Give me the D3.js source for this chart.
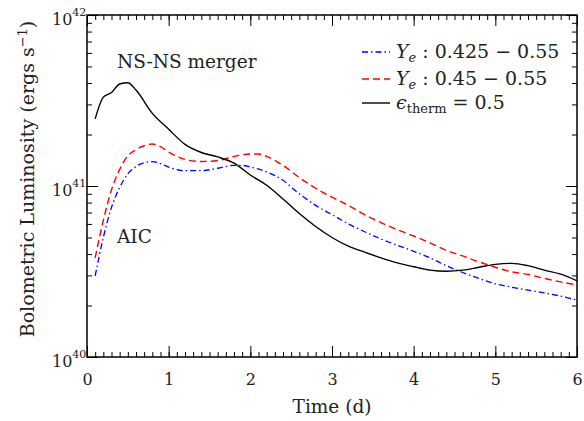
<!DOCTYPE html>
<html>
<head>
<meta charset="utf-8">
<script src="https://cdn.jsdelivr.net/npm/d3@7"></script>
<style>
  body { margin: 0; background: #fff; }
  svg text { font-family: "DejaVu Serif", serif; fill: #222; }
</style>
</head>
<body>
<svg id="chart" width="584" height="421"></svg>
<script>
// light curves (time in days, luminosity in erg/s)
var blueTime = [0.1, 0.2, 0.3, 0.4, 0.5, 0.6, 0.7, 0.8, 0.9, 1.0, 1.2, 1.4, 1.6, 1.8, 1.9, 2.0, 2.2, 2.4, 2.6, 2.8, 3.0, 3.2, 3.4, 3.6, 3.8, 4.0, 4.2, 4.4, 4.6, 4.8, 5.0, 5.2, 5.4, 5.6, 5.8, 6.0];
var blueLum = [2.98e40, 5.0e40, 7.5e40, 9.8e40, 1.18e41, 1.3e41, 1.37e41, 1.39e41, 1.35e41, 1.29e41, 1.23e41, 1.23e41, 1.27e41, 1.32e41, 1.32e41, 1.29e41, 1.21e41, 1.08e41, 9.0e40, 7.7e40, 6.8e40, 6.0e40, 5.4e40, 4.9e40, 4.5e40, 4.15e40, 3.8e40, 3.42e40, 3.12e40, 2.88e40, 2.68e40, 2.56e40, 2.46e40, 2.37e40, 2.27e40, 2.15e40];

var redTime = [0.1, 0.2, 0.3, 0.4, 0.5, 0.6, 0.7, 0.8, 0.9, 1.0, 1.2, 1.4, 1.6, 1.8, 2.0, 2.1, 2.2, 2.4, 2.6, 2.8, 3.0, 3.2, 3.4, 3.6, 3.8, 4.0, 4.2, 4.4, 4.6, 4.8, 5.0, 5.2, 5.4, 5.6, 5.8, 6.0];
var redLum = [3.8e40, 6.3e40, 9.5e40, 1.25e41, 1.5e41, 1.63e41, 1.72e41, 1.76e41, 1.7e41, 1.58e41, 1.43e41, 1.39e41, 1.41e41, 1.49e41, 1.54e41, 1.54e41, 1.49e41, 1.32e41, 1.12e41, 9.7e40, 8.6e40, 7.7e40, 6.8e40, 6.1e40, 5.55e40, 5.1e40, 4.65e40, 4.2e40, 3.9e40, 3.6e40, 3.35e40, 3.15e40, 3.04e40, 2.88e40, 2.75e40, 2.64e40];

var blackTime = [0.1, 0.2, 0.3, 0.4, 0.5, 0.6, 0.8, 1.0, 1.2, 1.4, 1.6, 1.8, 2.0, 2.2, 2.4, 2.6, 2.8, 3.0, 3.2, 3.4, 3.6, 3.8, 4.0, 4.2, 4.4, 4.6, 4.8, 5.0, 5.2, 5.4, 5.6, 5.8, 6.0];
var blackLum = [2.47e41, 3.31e41, 3.52e41, 3.95e41, 4.02e41, 3.64e41, 2.66e41, 2.15e41, 1.75e41, 1.57e41, 1.48e41, 1.36e41, 1.16e41, 1.01e41, 8.4e40, 6.9e40, 5.8e40, 5.0e40, 4.45e40, 4.1e40, 3.8e40, 3.55e40, 3.37e40, 3.22e40, 3.17e40, 3.22e40, 3.35e40, 3.48e40, 3.53e40, 3.42e40, 3.22e40, 3.05e40, 2.79e40];

var xTicks = [0, 1, 2, 3, 4, 5, 6];
var yTicks = [1e40, 1e41, 1e42];
var yExponents = ["40", "41", "42"];

var series = [
  { name: "ye425", time: blueTime, lum: blueLum, color: "#0000ff", dash: "6,3,1.5,3", width: 1.3 },
  { name: "ye45", time: redTime, lum: redLum, color: "#ff0000", dash: "7,4", width: 1.4 },
  { name: "therm", time: blackTime, lum: blackLum, color: "#000", dash: null, width: 1.4 }
];

var svg = d3.select("svg");
var plotL = 87, plotR = 577, plotT = 15, plotB = 357;

var x = d3.scaleLinear().domain([0, 6]).range([plotL, plotR]);
var y = d3.scaleLog().domain([1e40, 1e42]).range([plotB, plotT]);

// minor ticks
var xMinor = d3.range(0, 60.5, 1).map(function(i) { return i / 10; });
var yMinor = [];
[1e40, 1e41].forEach(function(d) {
  for (var k = 2; k <= 9; k++) yMinor.push(d * k);
});

function axisStyle(g) {
  g.select(".domain").remove();
  g.attr("font-family", null);
  g.selectAll("line").attr("stroke", "#000").attr("stroke-width", 1);
}

// bottom / top
svg.append("g").attr("transform", "translate(0," + plotB + ")")
  .call(d3.axisBottom(x).tickValues(xMinor).tickSize(-5).tickFormat(""))
  .call(axisStyle);
svg.append("g").attr("transform", "translate(0," + plotB + ")")
  .call(d3.axisBottom(x).tickValues(xTicks).tickSize(-11).tickPadding(17).tickFormat(d3.format("d")))
  .call(axisStyle)
  .attr("font-size", 16)
  .selectAll("text").attr("fill", "#222");
svg.append("g").attr("transform", "translate(0," + plotT + ")")
  .call(d3.axisTop(x).tickValues(xMinor).tickSize(-5).tickFormat(""))
  .call(axisStyle);
svg.append("g").attr("transform", "translate(0," + plotT + ")")
  .call(d3.axisTop(x).tickValues(xTicks).tickSize(-11).tickFormat(""))
  .call(axisStyle);

// left / right
svg.append("g").attr("transform", "translate(" + plotL + ",0)")
  .call(d3.axisLeft(y).tickValues(yMinor).tickSize(-5).tickFormat(""))
  .call(axisStyle);
svg.append("g").attr("transform", "translate(" + plotL + ",0)")
  .call(d3.axisLeft(y).tickValues(yTicks).tickSize(-11).tickFormat(""))
  .call(axisStyle);
svg.append("g").attr("transform", "translate(" + plotR + ",0)")
  .call(d3.axisRight(y).tickValues(yMinor).tickSize(-5).tickFormat(""))
  .call(axisStyle);
svg.append("g").attr("transform", "translate(" + plotR + ",0)")
  .call(d3.axisRight(y).tickValues(yTicks).tickSize(-11).tickFormat(""))
  .call(axisStyle);

// y tick labels 10^n
yTicks.forEach(function(d, i) {
  var t = svg.append("text")
    .attr("x", 52)
    .attr("y", y(d) + 10)
    .attr("font-size", 16);
  t.append("tspan").text("10");
  t.append("tspan").attr("dy", -9).attr("font-size", 11).text(yExponents[i]);
});

// frame
svg.append("rect")
  .attr("x", plotL).attr("y", plotT)
  .attr("width", plotR - plotL).attr("height", plotB - plotT)
  .attr("fill", "none").attr("stroke", "#000").attr("stroke-width", 1.5);

// curves
var line = d3.line()
  .x(function(d) { return x(d[0]); })
  .y(function(d) { return y(d[1]); })
  .curve(d3.curveMonotoneX);

series.forEach(function(s) {
  var pts = s.time.map(function(t, i) { return [t, s.lum[i]]; });
  svg.append("path")
    .datum(pts)
    .attr("d", line)
    .attr("fill", "none")
    .attr("stroke", s.color)
    .attr("stroke-width", s.width)
    .attr("stroke-dasharray", s.dash);
});

// annotations
svg.append("text").attr("x", 117).attr("y", 68).attr("font-size", 18.5).text("NS-NS merger");
svg.append("text").attr("x", 117).attr("y", 243).attr("font-size", 18.5).text("AIC");

// axis titles
svg.append("text")
  .attr("x", (plotL + plotR) / 2).attr("y", 413)
  .attr("text-anchor", "middle").attr("font-size", 18.5)
  .text("Time (d)");

var yt = svg.append("text")
  .attr("transform", "translate(34," + 179 + ") rotate(-90)")
  .attr("text-anchor", "middle").attr("font-size", 19);
yt.append("tspan").text("Bolometric Luminosity (ergs s");
yt.append("tspan").attr("dy", -7).attr("font-size", 13).text("\u22121");
yt.append("tspan").attr("dy", 7).text(")");

// legend
var legendRows = [52, 79, 103];
var lg = svg.append("g");
series.forEach(function(s, i) {
  lg.append("line")
    .attr("x1", 362).attr("x2", 390)
    .attr("y1", legendRows[i]).attr("y2", legendRows[i])
    .attr("stroke", s.color).attr("stroke-width", s.width)
    .attr("stroke-dasharray", s.dash);
});
function yeLabel(row, rest) {
  var t = lg.append("text").attr("x", 396).attr("y", legendRows[row] + 6).attr("font-size", 19);
  t.append("tspan").attr("font-style", "italic").text("Y");
  t.append("tspan").attr("font-style", "italic").attr("font-size", 13).attr("dy", 4).text("e");
  t.append("tspan").attr("dy", -4).text(rest);
}
yeLabel(0, " : 0.425 \u2212 0.55");
yeLabel(1, " : 0.45 \u2212 0.55");
var th = lg.append("text").attr("x", 396).attr("y", legendRows[2] + 6).attr("font-size", 19);
th.append("tspan").attr("font-style", "italic").text("\u03f5");
th.append("tspan").attr("font-size", 13).attr("dy", 4).text("therm");
th.append("tspan").attr("dy", -4).text(" = 0.5");
</script>
</body>
</html>
